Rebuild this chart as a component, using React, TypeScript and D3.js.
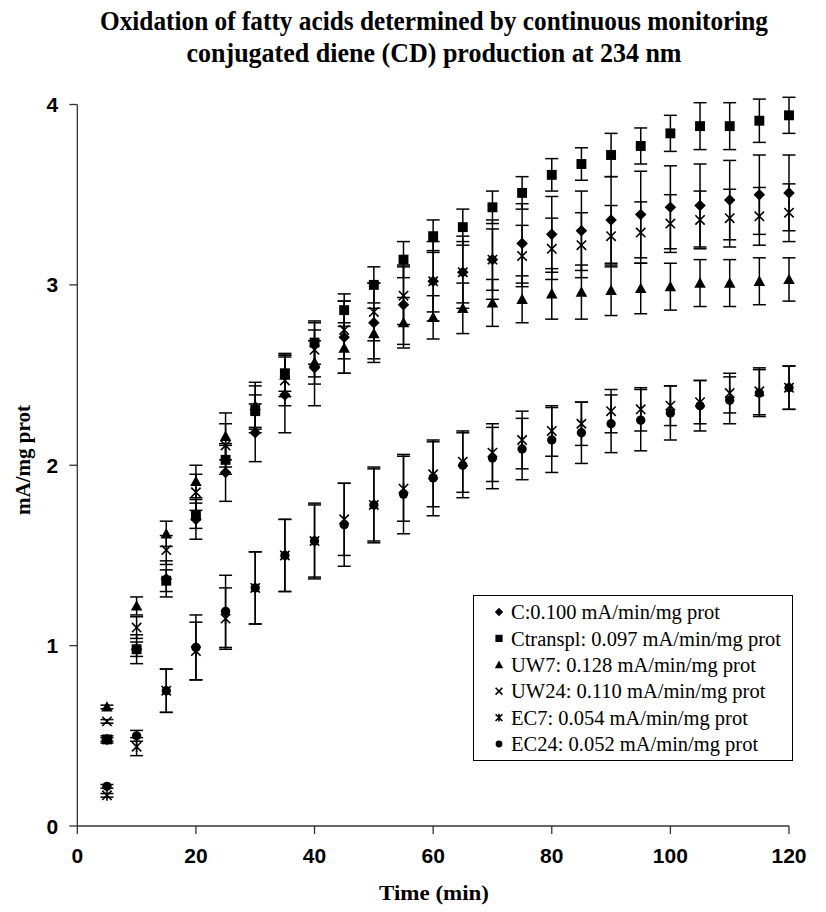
import React from "react";
import * as d3 from "d3";

const times = [5,10,15,20,25,30,35,40,45,50,55,60,65,70,75,80,85,90,95,100,105,110,115,120];

const seriesNames = ["C", "Ctranspl", "UW7", "UW24", "EC7", "EC24"];
const legendLabels = [
  "C:0.100 mA/min/mg prot",
  "Ctranspl: 0.097 mA/min/mg prot",
  "UW7: 0.128 mA/min/mg prot",
  "UW24: 0.110 mA/min/mg prot",
  "EC7: 0.054 mA/min/mg prot",
  "EC24: 0.052 mA/min/mg prot",
];
const markerTypes = ["diamond", "square", "triangle", "x", "asterisk", "circle"];

const valC = [0.48,0.98,1.37,1.70,1.96,2.18,2.39,2.54,2.71,2.79,2.89,3.02,3.07,3.14,3.23,3.28,3.30,3.36,3.39,3.43,3.44,3.47,3.50,3.51];
const sdC = [0.02,0.08,0.1,0.11,0.16,0.16,0.21,0.21,0.2,0.22,0.22,0.22,0.2,0.22,0.22,0.21,0.22,0.24,0.24,0.23,0.23,0.22,0.22,0.21];

const valCt = [0.48,0.98,1.36,1.72,2.03,2.30,2.51,2.68,2.86,3.00,3.14,3.27,3.32,3.43,3.51,3.61,3.67,3.72,3.77,3.84,3.88,3.88,3.91,3.94];
const sdCt = [0.01,0.04,0.06,0.07,0.08,0.09,0.1,0.12,0.09,0.1,0.1,0.09,0.1,0.09,0.09,0.09,0.09,0.12,0.1,0.1,0.13,0.13,0.12,0.1];

const valUW7 = [0.66,1.22,1.62,1.91,2.16,2.33,2.50,2.57,2.65,2.73,2.79,2.82,2.87,2.90,2.92,2.95,2.96,2.97,2.98,2.99,3.01,3.01,3.02,3.03];
const sdUW7 = [0.01,0.05,0.07,0.09,0.13,0.13,0.12,0.12,0.14,0.14,0.14,0.12,0.14,0.13,0.13,0.14,0.15,0.14,0.14,0.13,0.13,0.13,0.13,0.12];

const valUW24 = [0.58,1.10,1.53,1.85,2.11,2.31,2.47,2.64,2.75,2.85,2.94,3.02,3.07,3.14,3.16,3.20,3.22,3.27,3.29,3.34,3.36,3.37,3.38,3.40];
const sdUW24 = [0.01,0.06,0.08,0.1,0.12,0.13,0.14,0.15,0.16,0.16,0.16,0.17,0.17,0.17,0.17,0.17,0.18,0.17,0.17,0.16,0.16,0.16,0.16,0.16];

const valEC7 = [0.17,0.44,0.75,0.97,1.15,1.32,1.50,1.58,1.70,1.78,1.87,1.95,2.02,2.07,2.14,2.19,2.23,2.30,2.31,2.33,2.35,2.40,2.41,2.43];
const sdEC7 = [0.01,0.05,0.12,0.16,0.17,0.2,0.2,0.2,0.2,0.2,0.18,0.18,0.17,0.16,0.16,0.14,0.12,0.12,0.12,0.11,0.12,0.11,0.13,0.12];

const valEC24 = [0.22,0.50,0.75,0.99,1.19,1.32,1.50,1.58,1.67,1.78,1.84,1.93,2.00,2.04,2.09,2.14,2.18,2.23,2.25,2.29,2.33,2.36,2.40,2.43];
const sdEC24 = [0.01,0.03,0.12,0.18,0.2,0.2,0.2,0.21,0.23,0.21,0.22,0.21,0.18,0.17,0.17,0.18,0.17,0.16,0.17,0.15,0.14,0.13,0.13,0.12];

const allValues = [valC, valCt, valUW7, valUW24, valEC7, valEC24];
const allSD = [sdC, sdCt, sdUW7, sdUW24, sdEC7, sdEC24];

const xTicks = [0,20,40,60,80,100,120];
const yTicks = [0,1,2,3,4];

const titleLines = [
  "Oxidation of fatty acids determined by continuous monitoring",
  "conjugated diene (CD) production at 234 nm",
];

function Marker({ type, x, y, s }: { type: string; x: number; y: number; s: number }) {
  const h = s / 2;
  if (type === "diamond") {
    const r = h * 1.05;
    return <path d={`M${x},${y - r}L${x + r},${y}L${x},${y + r}L${x - r},${y}Z`} fill="#000" />;
  }
  if (type === "square") {
    const r = h * 0.9;
    return <rect x={x - r} y={y - r} width={2 * r} height={2 * r} fill="#000" />;
  }
  if (type === "triangle") {
    const r = h * 1.05;
    return <path d={`M${x},${y - r}L${x + r},${y + r * 0.8}L${x - r},${y + r * 0.8}Z`} fill="#000" />;
  }
  if (type === "circle") {
    return <circle cx={x} cy={y} r={h * 0.85} fill="#000" />;
  }
  if (type === "x") {
    const r = h * 0.85;
    return (
      <path d={`M${x - r},${y - r}L${x + r},${y + r}M${x - r},${y + r}L${x + r},${y - r}`} stroke="#000" strokeWidth={1.6} fill="none" />
    );
  }
  const r = h * 0.85;
  return (
    <path
      d={`M${x - r},${y - r}L${x + r},${y + r}M${x - r},${y + r}L${x + r},${y - r}M${x},${y - r * 1.15}L${x},${y + r * 1.15}`}
      stroke="#000" strokeWidth={1.6} fill="none"
    />
  );
}

export default function App() {
  const W = 826, H = 912;
  const x = d3.scaleLinear().domain([0, 120]).range([77.3, 789]);
  const y = d3.scaleLinear().domain([0, 4]).range([826, 104.5]);
  const capW = 6.5;

  const tickFont = "'Liberation Sans', Arial, sans-serif";
  const serif = "'Liberation Serif', 'Times New Roman', serif";

  return (
    <svg width={W} height={H} style={{ position: "absolute", left: 0, top: 0, background: "#fff" }}>
      <rect width={W} height={H} fill="#fff" />
      <text x={434} y={30} textAnchor="middle" fontFamily={serif} fontWeight="bold" fontSize={27} fill="#000"
        textLength={668} lengthAdjust="spacingAndGlyphs">
        {titleLines[0]}
      </text>
      <text x={434} y={62} textAnchor="middle" fontFamily={serif} fontWeight="bold" fontSize={27} fill="#000"
        textLength={495} lengthAdjust="spacingAndGlyphs">
        {titleLines[1]}
      </text>

      {/* axes */}
      <line x1={x(0)} x2={x(0)} y1={y(4)} y2={y(0)} stroke="#333" strokeWidth={1.3} />
      <line x1={x(0)} x2={x(120)} y1={y(0)} y2={y(0)} stroke="#333" strokeWidth={1.3} />
      {yTicks.map((t) => (
        <g key={"y" + t}>
          <line x1={x(0) - 8} x2={x(0)} y1={y(t)} y2={y(t)} stroke="#333" strokeWidth={1.3} />
          <text x={x(0) - 19} y={y(t)} dy="0.36em" textAnchor="end" fontFamily={tickFont} fontWeight="bold" fontSize={21} fill="#000">
            {t}
          </text>
        </g>
      ))}
      {xTicks.map((t) => (
        <g key={"x" + t}>
          <line x1={x(t)} x2={x(t)} y1={y(0)} y2={y(0) + 8} stroke="#333" strokeWidth={1.3} />
          <text x={x(t)} y={863} textAnchor="middle" fontFamily={tickFont} fontWeight="bold" fontSize={21} fill="#000">
            {t}
          </text>
        </g>
      ))}
      <text x={434} y={900} textAnchor="middle" fontFamily={serif} fontWeight="bold" fontSize={22} fill="#000"
        textLength={110} lengthAdjust="spacingAndGlyphs">
        Time (min)
      </text>
      <text transform={`translate(30,460) rotate(-90)`} textAnchor="middle" fontFamily={serif} fontWeight="bold" fontSize={22} fill="#000"
        textLength={110} lengthAdjust="spacingAndGlyphs">
        mA/mg prot
      </text>

      {/* series */}
      {allValues.map((vals, si) => (
        <g key={seriesNames[si]}>
          {vals.map((v, i) => {
            const sd = allSD[si][i];
            const cx = x(times[i]);
            const y1 = y(v + sd), y2 = y(v - sd);
            return (
              <g key={i}>
                <line x1={cx} x2={cx} y1={y1} y2={y2} stroke="#000" strokeWidth={1.5} />
                <line x1={cx - capW} x2={cx + capW} y1={y1} y2={y1} stroke="#000" strokeWidth={1.5} />
                <line x1={cx - capW} x2={cx + capW} y1={y2} y2={y2} stroke="#000" strokeWidth={1.5} />
              </g>
            );
          })}
          {vals.map((v, i) => (
            <Marker key={"m" + i} type={markerTypes[si]} x={x(times[i])} y={y(v)} s={11} />
          ))}
        </g>
      ))}

      {/* legend */}
      <rect x={473.5} y={595.5} width={319} height={165} fill="#fff" stroke="#000" strokeWidth={1} />
      {legendLabels.map((l, i) => (
        <g key={l}>
          <Marker type={markerTypes[i]} x={499} y={612 + i * 26.4} s={8} />
          <text x={511} y={612 + i * 26.4} dy="0.35em" fontFamily={serif} fontSize={20.5} fill="#000">
            {l}
          </text>
        </g>
      ))}
    </svg>
  );
}
